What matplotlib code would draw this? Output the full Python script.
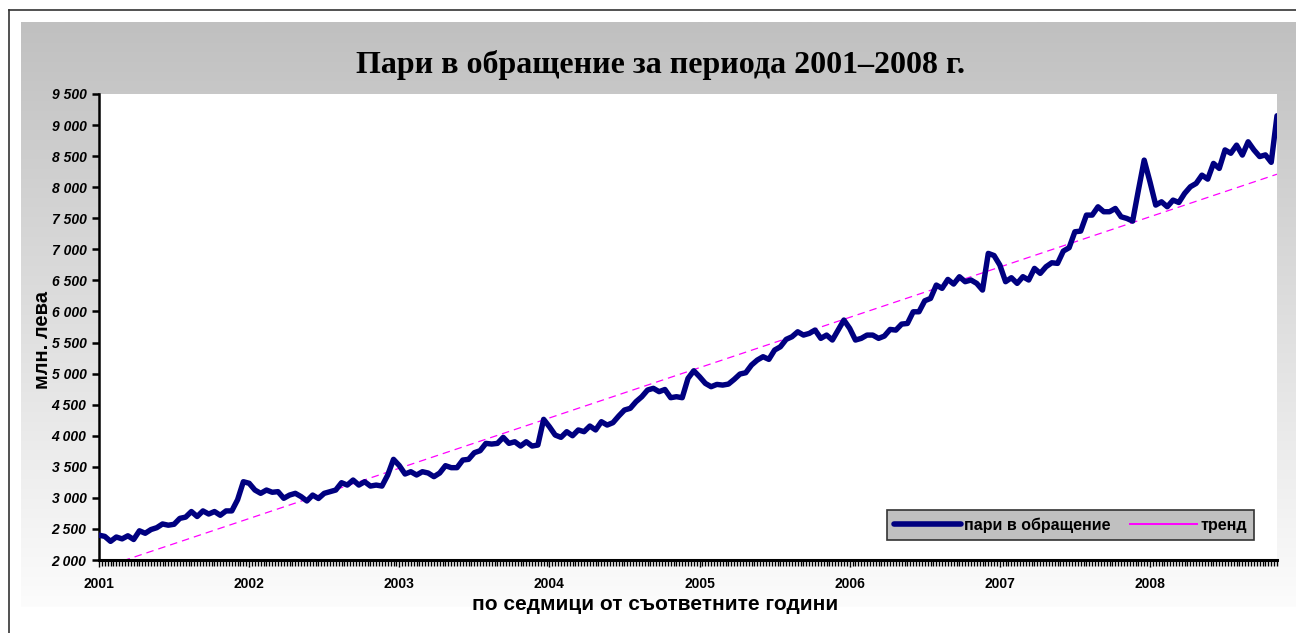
import numpy as np
from matplotlib import pyplot as plt
from matplotlib.lines import Line2D
from matplotlib.colors import LinearSegmentedColormap
from matplotlib.ticker import FuncFormatter, MultipleLocator

# пари в обращение, млн. лева, на всеки две седмици
y2001 = [2400, 2380, 2300, 2370, 2340, 2390, 2330, 2470, 2430, 2490, 2520, 2580, 2560,
         2575, 2670, 2690, 2780, 2700, 2790, 2740, 2780, 2720, 2790, 2790, 2970, 3260]
y2002 = [3235, 3126, 3073, 3126, 3090, 3100, 2993, 3045, 3073, 3020, 2950, 3045, 2990,
         3073, 3100, 3126, 3244, 3206, 3287, 3206, 3260, 3190, 3206, 3190, 3368, 3620]
y2003 = [3520, 3384, 3421, 3368, 3421, 3400, 3341, 3400, 3518, 3486, 3486, 3609, 3620,
         3727, 3759, 3877, 3866, 3877, 3974, 3877, 3903, 3834, 3903, 3834, 3850, 4264]
y2004 = [4145, 4011, 3974, 4065, 4000, 4093, 4065, 4156, 4093, 4226, 4172, 4210, 4317,
         4414, 4441, 4548, 4628, 4736, 4763, 4709, 4744, 4612, 4628, 4612, 4923, 5046]
y2005 = [4950, 4843, 4789, 4826, 4815, 4831, 4907, 4993, 5014, 5138, 5218, 5272, 5229,
         5379, 5432, 5551, 5593, 5673, 5620, 5647, 5701, 5567, 5620, 5540, 5700, 5862]
y2006 = [5728, 5540, 5567, 5620, 5620, 5567, 5604, 5711, 5700, 5797, 5807, 5995, 5995,
         6172, 6210, 6425, 6372, 6516, 6441, 6559, 6479, 6506, 6452, 6344, 6935, 6900]
y2007 = [6747, 6479, 6543, 6452, 6560, 6506, 6693, 6613, 6720, 6784, 6774, 6972, 7026,
         7283, 7293, 7551, 7551, 7685, 7605, 7605, 7658, 7524, 7497, 7454, 7953, 8436]
y2008 = [8087, 7712, 7765, 7685, 7792, 7754, 7900, 8007, 8061, 8194, 8130, 8383, 8302,
         8600, 8546, 8677, 8517, 8731, 8600, 8493, 8520, 8400, 9150]
years = ['2001', '2002', '2003', '2004', '2005', '2006', '2007', '2008']
weeks_per_year = 52

money = np.array(y2001 + y2002 + y2003 + y2004 + y2005 + y2006 + y2007 + y2008)
weeks = np.arange(len(money)) * 2

W, H = 1296, 633
fig = plt.figure(figsize=(W / 100, H / 100), dpi=100)
fig.patch.set_facecolor('white')

# сив фон с преливане
bg = fig.add_axes([21 / W, 1 - 607 / H, 1 - 21 / W, (607 - 22) / H])
grad = np.linspace(0, 1, 256).reshape(-1, 1)
cmap = LinearSegmentedColormap.from_list('g', ['#fcfcfc', '#c0c0c0'])
bg.imshow(grad, aspect='auto', cmap=cmap, origin='lower', extent=[0, 1, 0, 1])
bg.axis('off')

fig.add_artist(Line2D([9 / W, 9 / W], [0, 1 - 10 / H], transform=fig.transFigure, color='#333333', lw=1.2))
fig.add_artist(Line2D([9 / W, 1], [1 - 10 / H, 1 - 10 / H], transform=fig.transFigure, color='#333333', lw=1.2))

ax = fig.add_axes([99 / W, 1 - 560 / H, (1277 - 99) / W, (560 - 94) / H])
ax.set_facecolor('white')

ax.plot(weeks, money, color='#000080', lw=3.9, solid_joinstyle='round', solid_capstyle='round', zorder=3)
k, b = np.polyfit(weeks, money, 1)
ax.plot(weeks, k * weeks + b, color='#ff00ff', lw=0.9, dashes=(6, 4), zorder=2)

ax.set_xlim(0, weeks[-1])
ax.set_ylim(2000, 9500)
ax.yaxis.set_major_locator(MultipleLocator(500))
ax.yaxis.set_major_formatter(FuncFormatter(lambda v, p: f'{int(v):,}'.replace(',', ' ')))
ax.set_xticks(np.arange(len(years)) * weeks_per_year)
ax.set_xticklabels(years)
ax.set_xticks(np.arange(0, weeks[-1] + 1), minor=True)

for s in ['top', 'right']:
    ax.spines[s].set_visible(False)
ax.spines['left'].set_linewidth(1.8)
ax.spines['bottom'].set_linewidth(2.2)

ax.tick_params(axis='y', length=5, width=1.8, pad=4)
ax.tick_params(axis='x', which='major', length=5, width=1, pad=7)
ax.tick_params(axis='x', which='minor', length=4, width=1)
for t in ax.get_yticklabels():
    t.set_fontfamily('Liberation Sans')
    t.set_fontstyle('italic')
    t.set_fontweight('bold')
    t.set_fontsize(10)
for t in ax.get_xticklabels():
    t.set_fontfamily('Liberation Sans')
    t.set_fontweight('bold')
    t.set_fontsize(10)

fig.text(660 / W, 1 - 65 / H, 'Пари в обращение за периода 2001–2008 г.', ha='center', va='center',
         family='Liberation Serif', weight='bold', size=23)
fig.text(42 / W, 1 - 340 / H, 'млн. лева', ha='center', va='center', rotation=90,
         family='Liberation Sans', weight='bold', size=14.5)
fig.text(655 / W, 1 - 605 / H, 'по седмици от съответните години', ha='center', va='center',
         family='Liberation Sans', weight='bold', size=15)

handles = [Line2D([], [], color='#000080', lw=4, solid_capstyle='round'),
           Line2D([], [], color='#ff00ff', lw=1.4)]
leg = ax.legend(handles, ['пари в обращение', 'тренд'], loc='lower right', bbox_to_anchor=(0.9805, 0.043),
                ncol=2, frameon=True, fancybox=False, framealpha=1, borderaxespad=0,
                handlelength=4.2, handletextpad=0.2, columnspacing=1.2, borderpad=0.45,
                prop={'family': 'Liberation Sans', 'weight': 'bold', 'size': 11.5})
leg.get_frame().set_facecolor('#c0c0c0')
leg.get_frame().set_edgecolor('#333333')
leg.get_frame().set_linewidth(1.2)

fig.savefig('out.png', dpi=100)
